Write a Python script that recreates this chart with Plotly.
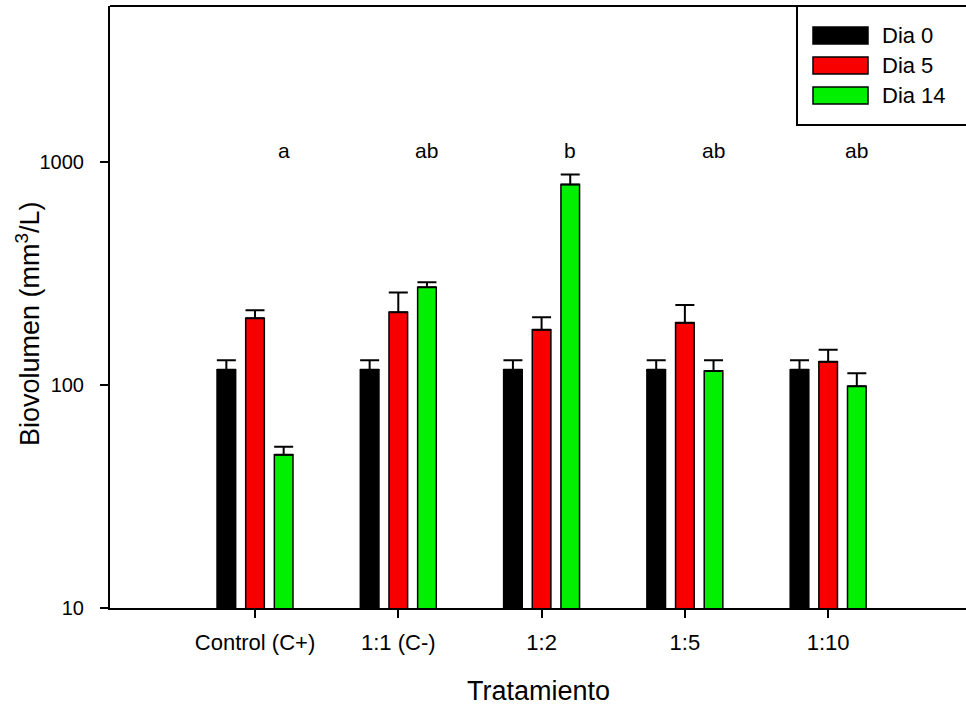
import math
import plotly.graph_objects as go

# Treatment groups and day series
tratamientos = ["Control (C+)", "1:1 (C-)", "1:2", "1:5", "1:10"]
dias = ["Dia 0", "Dia 5", "Dia 14"]

# Mean biovolume (mm3/L) per treatment
dia0 = [117, 117, 117, 117, 117]
dia5 = [199, 212, 177, 190, 127]
dia14 = [48.7, 274, 792, 115.5, 98.7]

# Upper error (SE) per treatment
err0 = [12, 12, 12, 12, 12]
err5 = [17, 48, 24, 38, 17]
err14 = [4.2, 15, 85, 13.5, 14]

# Significance letters (Tukey groups)
letras = ["a", "ab", "b", "ab", "ab"]

colores = ["#000000", "#f80000", "#00f000"]
FONT = "Liberation Sans, Arial, sans-serif"

W, H = 966, 708
ML, MR, MT, MB = 110, 0, 6, 100
plot_w = W - ML - MR
plot_h = H - MT - MB

fig = go.Figure()
for nombre, vals, errs, col in zip(dias, [dia0, dia5, dia14], [err0, err5, err14], colores):
    fig.add_trace(go.Bar(
        x=tratamientos, y=vals, name=nombre,
        marker=dict(color=col, line=dict(color="black", width=1.5)),
        error_y=dict(type="data", symmetric=False, array=errs,
                     arrayminus=[0] * len(errs), color="black",
                     thickness=2, width=9.5),
        showlegend=False,
    ))

# Letters above the Dia 14 bar of each group
for i, txt in enumerate(letras):
    fig.add_annotation(x=i + 0.2, y=math.log10(1130), xref="x", yref="y",
                       text=txt, showarrow=False,
                       font=dict(family=FONT, size=21, color="black"))

def px_x(p):
    return (p - ML) / plot_w

def px_y(p):
    return (H - MB - p) / plot_h

# Top frame line
fig.add_shape(type="line", xref="paper", yref="paper", x0=0, x1=1.05, y0=1, y1=1,
              line=dict(color="black", width=2))

# Legend box with swatches
fig.add_shape(type="rect", xref="paper", yref="paper",
              x0=px_x(797), x1=px_x(975), y0=px_y(125), y1=1,
              line=dict(color="black", width=2), fillcolor="rgba(0,0,0,0)")
for k, (nombre, col) in enumerate(zip(dias, colores)):
    cy = 35.5 + 30 * k
    fig.add_shape(type="rect", xref="paper", yref="paper",
                  x0=px_x(813), x1=px_x(868), y0=px_y(cy + 8.5), y1=px_y(cy - 8.5),
                  line=dict(color="black", width=1.5), fillcolor=col)
    fig.add_annotation(xref="paper", yref="paper", x=px_x(880), y=px_y(cy),
                       xanchor="left", yanchor="middle", text=nombre, showarrow=False,
                       font=dict(family=FONT, size=22, color="black"))

# Axis titles
fig.add_annotation(xref="paper", yref="paper", x=0.5, y=px_y(691),
                   xanchor="center", yanchor="middle", text="Tratamiento",
                   showarrow=False, font=dict(family=FONT, size=27, color="black"))
fig.add_annotation(xref="paper", yref="paper", x=px_x(28), y=px_y(324),
                   xanchor="center", yanchor="middle", textangle=-90,
                   text="Biovolumen (mm<sup>3</sup>/L)",
                   showarrow=False, font=dict(family=FONT, size=27, color="black"))

fig.update_layout(
    width=W, height=H,
    margin=dict(l=ML, r=MR, t=MT, b=MB, autoexpand=False),
    paper_bgcolor="white", plot_bgcolor="white",
    barmode="group", bargap=0.4, bargroupgap=0.35,
    font=dict(family=FONT, color="black"),
)
fig.update_xaxes(
    type="category", range=[-1.012, 4.962],
    showline=True, linecolor="black", linewidth=2,
    ticks="outside", ticklen=8, tickwidth=2, tickcolor="black",
    showgrid=False, zeroline=False,
    tickfont=dict(family=FONT, size=22, color="black"),
    ticklabelstandoff=6,
)
fig.update_yaxes(
    type="log", range=[1, math.log10(5000)],
    tickvals=[10, 100, 1000], ticktext=["10", "100", "1000"],
    showline=True, linecolor="black", linewidth=2,
    ticks="outside", ticklen=8, tickwidth=2, tickcolor="black",
    showgrid=False, zeroline=False,
    tickfont=dict(family=FONT, size=20, color="black"),
    ticklabelstandoff=12,
)

fig.write_html("out.html")
